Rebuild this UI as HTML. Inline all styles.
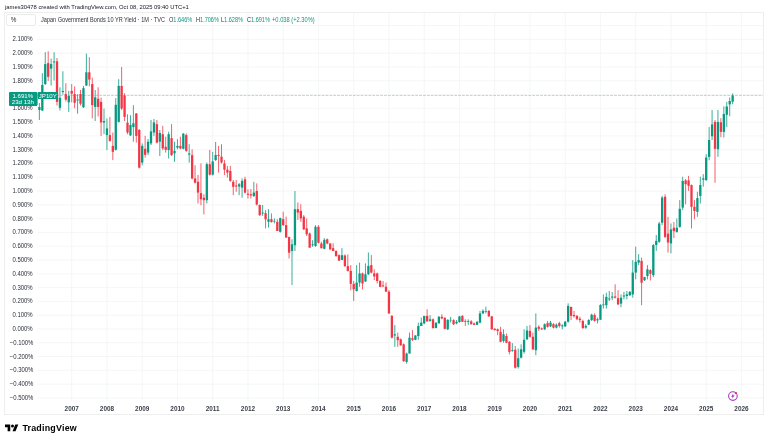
<!DOCTYPE html>
<html><head><meta charset="utf-8">
<style>
#wrap{position:absolute;left:0;top:0;width:768px;height:442px;will-change:transform}
html,body{margin:0;padding:0;background:#fff;width:768px;height:442px;overflow:hidden;position:relative;font-family:"Liberation Sans",sans-serif;color:#131722}
.t{position:absolute;white-space:nowrap}
#title{left:5px;top:2.8px;font-size:6.1px;line-height:8px;color:#131722;transform:scaleX(0.957);transform-origin:0 0}
#frame{position:absolute;left:4px;top:12px;width:758px;height:401px;border:1px solid #eeeeee}
#pct{position:absolute;left:5.9px;top:13.6px;width:28.6px;height:10.8px;border:0.7px solid #eaebeb;border-radius:2px;background:#fff}
#pcttx{left:10.8px;top:16.1px;font-size:6.3px;line-height:8px;color:#2a2e39}
.lg{top:16.0px;font-size:6.6px;line-height:8px;transform:scaleX(0.845);transform-origin:0 0;color:#2e323c}
.g{color:#089981}
.pl{position:absolute;right:734.9px;font-size:6.4px;line-height:8px;color:#2a2e39;white-space:nowrap;text-align:right;transform:scaleX(0.935);transform-origin:100% 0}
.yl{position:absolute;top:404.5px;width:30px;text-align:center;font-size:6.4px;font-weight:bold;line-height:8px;color:#3d414b}
#plbox{position:absolute;left:9px;top:92px;width:27.6px;height:13.8px;box-sizing:border-box;padding-top:0.6px;background:#089981;border-radius:1px;color:#fff;text-align:center;font-size:6.1px;line-height:6.4px}
#sym{position:absolute;left:37.9px;top:92.3px;width:19.8px;height:6.9px;background:#089981;color:#fff;text-align:center;font-size:6.1px;line-height:7px}
#logo{position:absolute;left:5px;top:424px}
#logotx{left:22.4px;top:422.9px;font-size:8.9px;font-weight:bold;line-height:11px;color:#000;letter-spacing:0.22px}
svg{position:absolute;left:0;top:0}
</style></head><body><div id="wrap">
<div class="t" id="title">james30478 created with TradingView.com, Oct 08, 2025 09:40 UTC+1</div>
<div id="frame"></div>
<svg width="768" height="442" viewBox="0 0 768 442">
<line x1="37" y1="397.94" x2="763" y2="397.94" stroke="#f2f3f3" stroke-width="0.75"/>
<line x1="37" y1="384.15" x2="763" y2="384.15" stroke="#f2f3f3" stroke-width="0.75"/>
<line x1="37" y1="370.36" x2="763" y2="370.36" stroke="#f2f3f3" stroke-width="0.75"/>
<line x1="37" y1="356.57" x2="763" y2="356.57" stroke="#f2f3f3" stroke-width="0.75"/>
<line x1="37" y1="342.78" x2="763" y2="342.78" stroke="#f2f3f3" stroke-width="0.75"/>
<line x1="37" y1="328.99" x2="763" y2="328.99" stroke="#f2f3f3" stroke-width="0.75"/>
<line x1="37" y1="315.20" x2="763" y2="315.20" stroke="#f2f3f3" stroke-width="0.75"/>
<line x1="37" y1="301.41" x2="763" y2="301.41" stroke="#f2f3f3" stroke-width="0.75"/>
<line x1="37" y1="287.62" x2="763" y2="287.62" stroke="#f2f3f3" stroke-width="0.75"/>
<line x1="37" y1="273.83" x2="763" y2="273.83" stroke="#f2f3f3" stroke-width="0.75"/>
<line x1="37" y1="260.04" x2="763" y2="260.04" stroke="#f2f3f3" stroke-width="0.75"/>
<line x1="37" y1="246.25" x2="763" y2="246.25" stroke="#f2f3f3" stroke-width="0.75"/>
<line x1="37" y1="232.46" x2="763" y2="232.46" stroke="#f2f3f3" stroke-width="0.75"/>
<line x1="37" y1="218.67" x2="763" y2="218.67" stroke="#f2f3f3" stroke-width="0.75"/>
<line x1="37" y1="204.88" x2="763" y2="204.88" stroke="#f2f3f3" stroke-width="0.75"/>
<line x1="37" y1="191.09" x2="763" y2="191.09" stroke="#f2f3f3" stroke-width="0.75"/>
<line x1="37" y1="177.30" x2="763" y2="177.30" stroke="#f2f3f3" stroke-width="0.75"/>
<line x1="37" y1="163.51" x2="763" y2="163.51" stroke="#f2f3f3" stroke-width="0.75"/>
<line x1="37" y1="149.72" x2="763" y2="149.72" stroke="#f2f3f3" stroke-width="0.75"/>
<line x1="37" y1="135.93" x2="763" y2="135.93" stroke="#f2f3f3" stroke-width="0.75"/>
<line x1="37" y1="122.14" x2="763" y2="122.14" stroke="#f2f3f3" stroke-width="0.75"/>
<line x1="37" y1="108.35" x2="763" y2="108.35" stroke="#f2f3f3" stroke-width="0.75"/>
<line x1="37" y1="94.56" x2="763" y2="94.56" stroke="#f2f3f3" stroke-width="0.75"/>
<line x1="37" y1="80.77" x2="763" y2="80.77" stroke="#f2f3f3" stroke-width="0.75"/>
<line x1="37" y1="66.98" x2="763" y2="66.98" stroke="#f2f3f3" stroke-width="0.75"/>
<line x1="37" y1="53.19" x2="763" y2="53.19" stroke="#f2f3f3" stroke-width="0.75"/>
<line x1="37" y1="39.40" x2="763" y2="39.40" stroke="#f2f3f3" stroke-width="0.75"/>
<line x1="37" y1="25.61" x2="763" y2="25.61" stroke="#f2f3f3" stroke-width="0.75"/>
<line x1="71.70" y1="13" x2="71.70" y2="401" stroke="#f2f3f3" stroke-width="0.75"/>
<line x1="106.95" y1="13" x2="106.95" y2="401" stroke="#f2f3f3" stroke-width="0.75"/>
<line x1="142.20" y1="13" x2="142.20" y2="401" stroke="#f2f3f3" stroke-width="0.75"/>
<line x1="177.45" y1="13" x2="177.45" y2="401" stroke="#f2f3f3" stroke-width="0.75"/>
<line x1="212.70" y1="13" x2="212.70" y2="401" stroke="#f2f3f3" stroke-width="0.75"/>
<line x1="247.95" y1="13" x2="247.95" y2="401" stroke="#f2f3f3" stroke-width="0.75"/>
<line x1="283.20" y1="13" x2="283.20" y2="401" stroke="#f2f3f3" stroke-width="0.75"/>
<line x1="318.45" y1="13" x2="318.45" y2="401" stroke="#f2f3f3" stroke-width="0.75"/>
<line x1="353.70" y1="13" x2="353.70" y2="401" stroke="#f2f3f3" stroke-width="0.75"/>
<line x1="388.95" y1="13" x2="388.95" y2="401" stroke="#f2f3f3" stroke-width="0.75"/>
<line x1="424.20" y1="13" x2="424.20" y2="401" stroke="#f2f3f3" stroke-width="0.75"/>
<line x1="459.45" y1="13" x2="459.45" y2="401" stroke="#f2f3f3" stroke-width="0.75"/>
<line x1="494.70" y1="13" x2="494.70" y2="401" stroke="#f2f3f3" stroke-width="0.75"/>
<line x1="529.95" y1="13" x2="529.95" y2="401" stroke="#f2f3f3" stroke-width="0.75"/>
<line x1="565.20" y1="13" x2="565.20" y2="401" stroke="#f2f3f3" stroke-width="0.75"/>
<line x1="600.45" y1="13" x2="600.45" y2="401" stroke="#f2f3f3" stroke-width="0.75"/>
<line x1="635.70" y1="13" x2="635.70" y2="401" stroke="#f2f3f3" stroke-width="0.75"/>
<line x1="670.95" y1="13" x2="670.95" y2="401" stroke="#f2f3f3" stroke-width="0.75"/>
<line x1="706.20" y1="13" x2="706.20" y2="401" stroke="#f2f3f3" stroke-width="0.75"/>
<line x1="741.45" y1="13" x2="741.45" y2="401" stroke="#f2f3f3" stroke-width="0.75"/>
<line x1="37" y1="95.50" x2="763" y2="95.50" stroke="#089981" stroke-opacity="0.45" stroke-width="0.7" stroke-dasharray="2.7 1.2"/>
<line x1="36.45" y1="92.50" x2="36.45" y2="106.00" stroke="#089981" stroke-width="0.8"/>
<rect x="35.30" y="92.50" width="2.3" height="12.50" fill="#089981"/>
<line x1="39.39" y1="103.00" x2="39.39" y2="120.00" stroke="#089981" stroke-width="0.8"/>
<rect x="38.24" y="107.00" width="2.3" height="3.00" fill="#089981"/>
<line x1="42.33" y1="73.20" x2="42.33" y2="111.00" stroke="#089981" stroke-width="0.8"/>
<rect x="41.18" y="85.00" width="2.3" height="25.50" fill="#089981"/>
<line x1="45.26" y1="52.20" x2="45.26" y2="85.00" stroke="#089981" stroke-width="0.8"/>
<rect x="44.11" y="64.10" width="2.3" height="19.90" fill="#089981"/>
<line x1="48.20" y1="51.30" x2="48.20" y2="80.90" stroke="#f23645" stroke-width="0.8"/>
<rect x="47.05" y="63.10" width="2.3" height="13.70" fill="#f23645"/>
<line x1="51.14" y1="58.60" x2="51.14" y2="85.50" stroke="#089981" stroke-width="0.8"/>
<rect x="49.99" y="64.10" width="2.3" height="4.50" fill="#089981"/>
<line x1="54.08" y1="52.20" x2="54.08" y2="80.50" stroke="#089981" stroke-width="0.8"/>
<rect x="52.93" y="61.50" width="2.3" height="1.00" fill="#089981"/>
<line x1="57.01" y1="58.00" x2="57.01" y2="105.50" stroke="#f23645" stroke-width="0.8"/>
<rect x="55.86" y="61.30" width="2.3" height="40.60" fill="#f23645"/>
<line x1="59.95" y1="87.30" x2="59.95" y2="110.50" stroke="#089981" stroke-width="0.8"/>
<rect x="58.80" y="97.80" width="2.3" height="10.00" fill="#089981"/>
<line x1="62.89" y1="71.30" x2="62.89" y2="94.60" stroke="#089981" stroke-width="0.8"/>
<rect x="61.74" y="91.00" width="2.3" height="1.00" fill="#089981"/>
<line x1="65.83" y1="83.20" x2="65.83" y2="101.40" stroke="#f23645" stroke-width="0.8"/>
<rect x="64.67" y="94.10" width="2.3" height="5.50" fill="#f23645"/>
<line x1="68.76" y1="90.90" x2="68.76" y2="111.90" stroke="#089981" stroke-width="0.8"/>
<rect x="67.61" y="96.00" width="2.3" height="6.30" fill="#089981"/>
<line x1="71.70" y1="84.10" x2="71.70" y2="102.30" stroke="#f23645" stroke-width="0.8"/>
<rect x="70.55" y="90.90" width="2.3" height="2.80" fill="#f23645"/>
<line x1="74.64" y1="86.40" x2="74.64" y2="108.30" stroke="#f23645" stroke-width="0.8"/>
<rect x="73.49" y="94.10" width="2.3" height="8.70" fill="#f23645"/>
<line x1="77.58" y1="94.10" x2="77.58" y2="113.70" stroke="#089981" stroke-width="0.8"/>
<rect x="76.42" y="99.50" width="2.3" height="1.00" fill="#089981"/>
<line x1="80.51" y1="90.00" x2="80.51" y2="105.50" stroke="#f23645" stroke-width="0.8"/>
<rect x="79.36" y="94.10" width="2.3" height="9.60" fill="#f23645"/>
<line x1="83.45" y1="85.90" x2="83.45" y2="108.00" stroke="#089981" stroke-width="0.8"/>
<rect x="82.30" y="88.20" width="2.3" height="19.10" fill="#089981"/>
<line x1="86.39" y1="53.60" x2="86.39" y2="86.00" stroke="#089981" stroke-width="0.8"/>
<rect x="85.24" y="72.30" width="2.3" height="13.20" fill="#089981"/>
<line x1="89.33" y1="57.20" x2="89.33" y2="86.40" stroke="#f23645" stroke-width="0.8"/>
<rect x="88.17" y="72.30" width="2.3" height="7.30" fill="#f23645"/>
<line x1="92.26" y1="77.70" x2="92.26" y2="118.30" stroke="#f23645" stroke-width="0.8"/>
<rect x="91.11" y="84.10" width="2.3" height="21.00" fill="#f23645"/>
<line x1="95.20" y1="90.00" x2="95.20" y2="121.00" stroke="#089981" stroke-width="0.8"/>
<rect x="94.05" y="97.30" width="2.3" height="9.60" fill="#089981"/>
<line x1="98.14" y1="87.30" x2="98.14" y2="116.50" stroke="#f23645" stroke-width="0.8"/>
<rect x="96.99" y="98.70" width="2.3" height="8.20" fill="#f23645"/>
<line x1="101.08" y1="97.60" x2="101.08" y2="135.90" stroke="#f23645" stroke-width="0.8"/>
<rect x="99.92" y="101.90" width="2.3" height="20.60" fill="#f23645"/>
<line x1="104.01" y1="108.50" x2="104.01" y2="134.20" stroke="#089981" stroke-width="0.8"/>
<rect x="102.86" y="121.00" width="2.3" height="1.50" fill="#089981"/>
<line x1="106.95" y1="118.50" x2="106.95" y2="150.10" stroke="#089981" stroke-width="0.8"/>
<rect x="105.80" y="128.40" width="2.3" height="6.70" fill="#089981"/>
<line x1="109.89" y1="116.90" x2="109.89" y2="141.70" stroke="#f23645" stroke-width="0.8"/>
<rect x="108.74" y="135.10" width="2.3" height="5.80" fill="#f23645"/>
<line x1="112.83" y1="132.50" x2="112.83" y2="160.10" stroke="#f23645" stroke-width="0.8"/>
<rect x="111.67" y="145.90" width="2.3" height="5.90" fill="#f23645"/>
<line x1="115.76" y1="98.10" x2="115.76" y2="150.50" stroke="#089981" stroke-width="0.8"/>
<rect x="114.61" y="104.80" width="2.3" height="45.00" fill="#089981"/>
<line x1="118.70" y1="79.20" x2="118.70" y2="122.50" stroke="#089981" stroke-width="0.8"/>
<rect x="117.55" y="85.90" width="2.3" height="36.00" fill="#089981"/>
<line x1="121.64" y1="67.00" x2="121.64" y2="110.00" stroke="#f23645" stroke-width="0.8"/>
<rect x="120.49" y="85.90" width="2.3" height="22.60" fill="#f23645"/>
<line x1="124.58" y1="93.10" x2="124.58" y2="121.00" stroke="#f23645" stroke-width="0.8"/>
<rect x="123.42" y="95.50" width="2.3" height="21.40" fill="#f23645"/>
<line x1="127.51" y1="114.30" x2="127.51" y2="134.20" stroke="#f23645" stroke-width="0.8"/>
<rect x="126.36" y="122.70" width="2.3" height="9.80" fill="#f23645"/>
<line x1="130.45" y1="115.20" x2="130.45" y2="135.90" stroke="#089981" stroke-width="0.8"/>
<rect x="129.30" y="125.00" width="2.3" height="10.40" fill="#089981"/>
<line x1="133.39" y1="105.20" x2="133.39" y2="141.70" stroke="#089981" stroke-width="0.8"/>
<rect x="132.24" y="123.30" width="2.3" height="3.70" fill="#089981"/>
<line x1="136.32" y1="113.00" x2="136.32" y2="142.60" stroke="#f23645" stroke-width="0.8"/>
<rect x="135.17" y="113.50" width="2.3" height="22.40" fill="#f23645"/>
<line x1="139.26" y1="129.00" x2="139.26" y2="168.50" stroke="#f23645" stroke-width="0.8"/>
<rect x="138.11" y="130.00" width="2.3" height="37.70" fill="#f23645"/>
<line x1="142.20" y1="143.40" x2="142.20" y2="165.20" stroke="#089981" stroke-width="0.8"/>
<rect x="141.05" y="145.90" width="2.3" height="16.70" fill="#089981"/>
<line x1="145.14" y1="135.90" x2="145.14" y2="157.60" stroke="#f23645" stroke-width="0.8"/>
<rect x="143.99" y="148.80" width="2.3" height="6.00" fill="#f23645"/>
<line x1="148.07" y1="139.00" x2="148.07" y2="155.10" stroke="#089981" stroke-width="0.8"/>
<rect x="146.92" y="141.70" width="2.3" height="10.90" fill="#089981"/>
<line x1="151.01" y1="120.00" x2="151.01" y2="145.10" stroke="#089981" stroke-width="0.8"/>
<rect x="149.86" y="131.40" width="2.3" height="12.00" fill="#089981"/>
<line x1="153.95" y1="119.00" x2="153.95" y2="135.90" stroke="#089981" stroke-width="0.8"/>
<rect x="152.80" y="122.50" width="2.3" height="10.00" fill="#089981"/>
<line x1="156.89" y1="120.00" x2="156.89" y2="143.40" stroke="#f23645" stroke-width="0.8"/>
<rect x="155.74" y="124.20" width="2.3" height="18.40" fill="#f23645"/>
<line x1="159.82" y1="130.00" x2="159.82" y2="156.00" stroke="#089981" stroke-width="0.8"/>
<rect x="158.67" y="133.00" width="2.3" height="8.70" fill="#089981"/>
<line x1="162.76" y1="125.90" x2="162.76" y2="150.10" stroke="#f23645" stroke-width="0.8"/>
<rect x="161.61" y="134.20" width="2.3" height="14.20" fill="#f23645"/>
<line x1="165.70" y1="136.70" x2="165.70" y2="152.60" stroke="#f23645" stroke-width="0.8"/>
<rect x="164.55" y="146.80" width="2.3" height="3.00" fill="#f23645"/>
<line x1="168.64" y1="131.70" x2="168.64" y2="158.50" stroke="#089981" stroke-width="0.8"/>
<rect x="167.49" y="134.20" width="2.3" height="15.90" fill="#089981"/>
<line x1="171.57" y1="124.20" x2="171.57" y2="156.00" stroke="#f23645" stroke-width="0.8"/>
<rect x="170.42" y="138.10" width="2.3" height="17.00" fill="#f23645"/>
<line x1="174.51" y1="141.70" x2="174.51" y2="161.80" stroke="#089981" stroke-width="0.8"/>
<rect x="173.36" y="150.90" width="2.3" height="2.50" fill="#089981"/>
<line x1="177.45" y1="139.20" x2="177.45" y2="149.30" stroke="#089981" stroke-width="0.8"/>
<rect x="176.30" y="145.90" width="2.3" height="1.70" fill="#089981"/>
<line x1="180.39" y1="136.70" x2="180.39" y2="149.30" stroke="#f23645" stroke-width="0.8"/>
<rect x="179.24" y="145.90" width="2.3" height="2.50" fill="#f23645"/>
<line x1="183.32" y1="133.00" x2="183.32" y2="149.30" stroke="#089981" stroke-width="0.8"/>
<rect x="182.17" y="133.70" width="2.3" height="15.10" fill="#089981"/>
<line x1="186.26" y1="133.40" x2="186.26" y2="151.80" stroke="#f23645" stroke-width="0.8"/>
<rect x="185.11" y="135.10" width="2.3" height="15.80" fill="#f23645"/>
<line x1="189.20" y1="144.20" x2="189.20" y2="162.60" stroke="#089981" stroke-width="0.8"/>
<rect x="188.05" y="153.40" width="2.3" height="1.20" fill="#089981"/>
<line x1="192.14" y1="149.30" x2="192.14" y2="179.40" stroke="#f23645" stroke-width="0.8"/>
<rect x="190.99" y="155.10" width="2.3" height="23.40" fill="#f23645"/>
<line x1="195.07" y1="165.20" x2="195.07" y2="183.50" stroke="#f23645" stroke-width="0.8"/>
<rect x="193.92" y="178.50" width="2.3" height="4.20" fill="#f23645"/>
<line x1="198.01" y1="175.00" x2="198.01" y2="203.50" stroke="#f23645" stroke-width="0.8"/>
<rect x="196.86" y="181.80" width="2.3" height="10.80" fill="#f23645"/>
<line x1="200.95" y1="163.40" x2="200.95" y2="205.20" stroke="#f23645" stroke-width="0.8"/>
<rect x="199.80" y="193.10" width="2.3" height="6.20" fill="#f23645"/>
<line x1="203.89" y1="194.30" x2="203.89" y2="214.40" stroke="#f23645" stroke-width="0.8"/>
<rect x="202.74" y="197.70" width="2.3" height="2.50" fill="#f23645"/>
<line x1="206.82" y1="162.50" x2="206.82" y2="203.50" stroke="#089981" stroke-width="0.8"/>
<rect x="205.67" y="164.20" width="2.3" height="36.00" fill="#089981"/>
<line x1="209.76" y1="150.00" x2="209.76" y2="175.50" stroke="#f23645" stroke-width="0.8"/>
<rect x="208.61" y="164.20" width="2.3" height="10.50" fill="#f23645"/>
<line x1="212.70" y1="152.00" x2="212.70" y2="175.50" stroke="#089981" stroke-width="0.8"/>
<rect x="211.55" y="161.40" width="2.3" height="13.30" fill="#089981"/>
<line x1="215.64" y1="142.00" x2="215.64" y2="161.00" stroke="#089981" stroke-width="0.8"/>
<rect x="214.49" y="155.00" width="2.3" height="5.00" fill="#089981"/>
<line x1="218.57" y1="145.90" x2="218.57" y2="172.60" stroke="#f23645" stroke-width="0.8"/>
<rect x="217.42" y="155.00" width="2.3" height="0.90" fill="#f23645"/>
<line x1="221.51" y1="144.20" x2="221.51" y2="163.50" stroke="#f23645" stroke-width="0.8"/>
<rect x="220.36" y="156.70" width="2.3" height="5.80" fill="#f23645"/>
<line x1="224.45" y1="160.10" x2="224.45" y2="175.00" stroke="#f23645" stroke-width="0.8"/>
<rect x="223.30" y="163.40" width="2.3" height="6.30" fill="#f23645"/>
<line x1="227.39" y1="165.90" x2="227.39" y2="177.60" stroke="#f23645" stroke-width="0.8"/>
<rect x="226.24" y="169.70" width="2.3" height="2.90" fill="#f23645"/>
<line x1="230.32" y1="165.90" x2="230.32" y2="181.80" stroke="#f23645" stroke-width="0.8"/>
<rect x="229.17" y="170.90" width="2.3" height="10.00" fill="#f23645"/>
<line x1="233.26" y1="180.00" x2="233.26" y2="195.20" stroke="#f23645" stroke-width="0.8"/>
<rect x="232.11" y="181.80" width="2.3" height="5.00" fill="#f23645"/>
<line x1="236.20" y1="180.00" x2="236.20" y2="191.80" stroke="#f23645" stroke-width="0.8"/>
<rect x="235.05" y="185.50" width="2.3" height="1.00" fill="#f23645"/>
<line x1="239.14" y1="183.00" x2="239.14" y2="195.20" stroke="#089981" stroke-width="0.8"/>
<rect x="237.99" y="184.30" width="2.3" height="2.20" fill="#089981"/>
<line x1="242.07" y1="178.40" x2="242.07" y2="197.70" stroke="#089981" stroke-width="0.8"/>
<rect x="240.92" y="180.90" width="2.3" height="6.70" fill="#089981"/>
<line x1="245.01" y1="176.80" x2="245.01" y2="193.50" stroke="#f23645" stroke-width="0.8"/>
<rect x="243.86" y="179.30" width="2.3" height="13.30" fill="#f23645"/>
<line x1="247.95" y1="189.30" x2="247.95" y2="198.50" stroke="#f23645" stroke-width="0.8"/>
<rect x="246.80" y="193.80" width="2.3" height="1.00" fill="#f23645"/>
<line x1="250.89" y1="189.00" x2="250.89" y2="198.50" stroke="#f23645" stroke-width="0.8"/>
<rect x="249.74" y="194.30" width="2.3" height="1.20" fill="#f23645"/>
<line x1="253.82" y1="181.80" x2="253.82" y2="197.00" stroke="#089981" stroke-width="0.8"/>
<rect x="252.67" y="192.60" width="2.3" height="3.40" fill="#089981"/>
<line x1="256.76" y1="183.40" x2="256.76" y2="205.50" stroke="#f23645" stroke-width="0.8"/>
<rect x="255.61" y="191.00" width="2.3" height="13.50" fill="#f23645"/>
<line x1="259.70" y1="204.50" x2="259.70" y2="216.00" stroke="#f23645" stroke-width="0.8"/>
<rect x="258.55" y="205.00" width="2.3" height="10.10" fill="#f23645"/>
<line x1="262.64" y1="205.00" x2="262.64" y2="215.90" stroke="#089981" stroke-width="0.8"/>
<rect x="261.49" y="212.60" width="2.3" height="0.80" fill="#089981"/>
<line x1="265.57" y1="210.00" x2="265.57" y2="228.40" stroke="#f23645" stroke-width="0.8"/>
<rect x="264.43" y="213.10" width="2.3" height="6.10" fill="#f23645"/>
<line x1="268.51" y1="209.20" x2="268.51" y2="227.60" stroke="#089981" stroke-width="0.8"/>
<rect x="267.36" y="219.20" width="2.3" height="2.60" fill="#089981"/>
<line x1="271.45" y1="213.40" x2="271.45" y2="222.60" stroke="#f23645" stroke-width="0.8"/>
<rect x="270.30" y="219.20" width="2.3" height="2.90" fill="#f23645"/>
<line x1="274.39" y1="218.40" x2="274.39" y2="223.40" stroke="#089981" stroke-width="0.8"/>
<rect x="273.24" y="220.90" width="2.3" height="0.60" fill="#089981"/>
<line x1="277.32" y1="219.20" x2="277.32" y2="231.00" stroke="#f23645" stroke-width="0.8"/>
<rect x="276.18" y="221.80" width="2.3" height="9.20" fill="#f23645"/>
<line x1="280.26" y1="217.60" x2="280.26" y2="232.60" stroke="#089981" stroke-width="0.8"/>
<rect x="279.11" y="218.10" width="2.3" height="13.70" fill="#089981"/>
<line x1="283.20" y1="211.70" x2="283.20" y2="226.00" stroke="#f23645" stroke-width="0.8"/>
<rect x="282.05" y="219.20" width="2.3" height="5.90" fill="#f23645"/>
<line x1="286.14" y1="216.70" x2="286.14" y2="237.60" stroke="#f23645" stroke-width="0.8"/>
<rect x="284.99" y="225.10" width="2.3" height="12.50" fill="#f23645"/>
<line x1="289.07" y1="236.50" x2="289.07" y2="258.50" stroke="#f23645" stroke-width="0.8"/>
<rect x="287.93" y="237.10" width="2.3" height="15.60" fill="#f23645"/>
<line x1="292.01" y1="239.30" x2="292.01" y2="285.00" stroke="#089981" stroke-width="0.8"/>
<rect x="290.86" y="244.30" width="2.3" height="6.70" fill="#089981"/>
<line x1="294.95" y1="191.00" x2="294.95" y2="251.00" stroke="#089981" stroke-width="0.8"/>
<rect x="293.80" y="209.20" width="2.3" height="36.00" fill="#089981"/>
<line x1="297.89" y1="202.50" x2="297.89" y2="220.10" stroke="#f23645" stroke-width="0.8"/>
<rect x="296.74" y="209.20" width="2.3" height="3.40" fill="#f23645"/>
<line x1="300.82" y1="204.20" x2="300.82" y2="221.80" stroke="#f23645" stroke-width="0.8"/>
<rect x="299.68" y="210.90" width="2.3" height="7.50" fill="#f23645"/>
<line x1="303.76" y1="215.10" x2="303.76" y2="230.10" stroke="#f23645" stroke-width="0.8"/>
<rect x="302.61" y="216.70" width="2.3" height="12.60" fill="#f23645"/>
<line x1="306.70" y1="218.40" x2="306.70" y2="236.00" stroke="#f23645" stroke-width="0.8"/>
<rect x="305.55" y="228.40" width="2.3" height="5.90" fill="#f23645"/>
<line x1="309.64" y1="232.60" x2="309.64" y2="247.70" stroke="#f23645" stroke-width="0.8"/>
<rect x="308.49" y="233.50" width="2.3" height="14.20" fill="#f23645"/>
<line x1="312.57" y1="240.20" x2="312.57" y2="246.80" stroke="#089981" stroke-width="0.8"/>
<rect x="311.43" y="244.30" width="2.3" height="0.90" fill="#089981"/>
<line x1="315.51" y1="225.10" x2="315.51" y2="246.80" stroke="#089981" stroke-width="0.8"/>
<rect x="314.36" y="226.80" width="2.3" height="19.20" fill="#089981"/>
<line x1="318.45" y1="225.10" x2="318.45" y2="243.50" stroke="#f23645" stroke-width="0.8"/>
<rect x="317.30" y="226.80" width="2.3" height="15.90" fill="#f23645"/>
<line x1="321.39" y1="241.80" x2="321.39" y2="248.50" stroke="#f23645" stroke-width="0.8"/>
<rect x="320.24" y="243.50" width="2.3" height="4.70" fill="#f23645"/>
<line x1="324.32" y1="238.10" x2="324.32" y2="249.30" stroke="#089981" stroke-width="0.8"/>
<rect x="323.18" y="239.80" width="2.3" height="9.00" fill="#089981"/>
<line x1="327.26" y1="238.50" x2="327.26" y2="244.30" stroke="#f23645" stroke-width="0.8"/>
<rect x="326.11" y="239.30" width="2.3" height="4.20" fill="#f23645"/>
<line x1="330.20" y1="243.20" x2="330.20" y2="250.20" stroke="#f23645" stroke-width="0.8"/>
<rect x="329.05" y="243.50" width="2.3" height="5.80" fill="#f23645"/>
<line x1="333.14" y1="243.20" x2="333.14" y2="251.00" stroke="#f23645" stroke-width="0.8"/>
<rect x="331.99" y="248.20" width="2.3" height="2.80" fill="#f23645"/>
<line x1="336.07" y1="250.20" x2="336.07" y2="256.90" stroke="#f23645" stroke-width="0.8"/>
<rect x="334.93" y="251.00" width="2.3" height="5.00" fill="#f23645"/>
<line x1="339.01" y1="254.40" x2="339.01" y2="261.00" stroke="#f23645" stroke-width="0.8"/>
<rect x="337.86" y="255.20" width="2.3" height="5.40" fill="#f23645"/>
<line x1="341.95" y1="248.20" x2="341.95" y2="260.20" stroke="#089981" stroke-width="0.8"/>
<rect x="340.80" y="255.20" width="2.3" height="4.70" fill="#089981"/>
<line x1="344.89" y1="254.40" x2="344.89" y2="266.90" stroke="#f23645" stroke-width="0.8"/>
<rect x="343.74" y="255.50" width="2.3" height="10.60" fill="#f23645"/>
<line x1="347.82" y1="254.40" x2="347.82" y2="271.50" stroke="#f23645" stroke-width="0.8"/>
<rect x="346.68" y="266.10" width="2.3" height="4.80" fill="#f23645"/>
<line x1="350.76" y1="265.10" x2="350.76" y2="290.20" stroke="#f23645" stroke-width="0.8"/>
<rect x="349.61" y="270.90" width="2.3" height="12.90" fill="#f23645"/>
<line x1="353.70" y1="281.00" x2="353.70" y2="301.00" stroke="#f23645" stroke-width="0.8"/>
<rect x="352.55" y="283.80" width="2.3" height="5.50" fill="#f23645"/>
<line x1="356.64" y1="265.10" x2="356.64" y2="291.50" stroke="#089981" stroke-width="0.8"/>
<rect x="355.49" y="282.60" width="2.3" height="8.40" fill="#089981"/>
<line x1="359.57" y1="262.60" x2="359.57" y2="286.80" stroke="#089981" stroke-width="0.8"/>
<rect x="358.43" y="273.40" width="2.3" height="9.20" fill="#089981"/>
<line x1="362.51" y1="272.60" x2="362.51" y2="289.30" stroke="#f23645" stroke-width="0.8"/>
<rect x="361.36" y="273.40" width="2.3" height="10.10" fill="#f23645"/>
<line x1="365.45" y1="263.40" x2="365.45" y2="282.00" stroke="#089981" stroke-width="0.8"/>
<rect x="364.30" y="274.30" width="2.3" height="7.20" fill="#089981"/>
<line x1="368.39" y1="252.50" x2="368.39" y2="275.00" stroke="#089981" stroke-width="0.8"/>
<rect x="367.24" y="265.90" width="2.3" height="8.40" fill="#089981"/>
<line x1="371.32" y1="255.00" x2="371.32" y2="273.40" stroke="#f23645" stroke-width="0.8"/>
<rect x="370.18" y="265.10" width="2.3" height="7.50" fill="#f23645"/>
<line x1="374.26" y1="269.30" x2="374.26" y2="280.10" stroke="#f23645" stroke-width="0.8"/>
<rect x="373.11" y="273.40" width="2.3" height="3.10" fill="#f23645"/>
<line x1="377.20" y1="272.60" x2="377.20" y2="283.50" stroke="#f23645" stroke-width="0.8"/>
<rect x="376.05" y="273.40" width="2.3" height="7.60" fill="#f23645"/>
<line x1="380.14" y1="280.10" x2="380.14" y2="287.20" stroke="#f23645" stroke-width="0.8"/>
<rect x="378.99" y="281.00" width="2.3" height="5.80" fill="#f23645"/>
<line x1="383.07" y1="281.00" x2="383.07" y2="286.80" stroke="#f23645" stroke-width="0.8"/>
<rect x="381.93" y="285.50" width="2.3" height="1.00" fill="#f23645"/>
<line x1="386.01" y1="282.60" x2="386.01" y2="291.80" stroke="#f23645" stroke-width="0.8"/>
<rect x="384.86" y="286.80" width="2.3" height="4.90" fill="#f23645"/>
<line x1="388.95" y1="290.00" x2="388.95" y2="314.00" stroke="#f23645" stroke-width="0.8"/>
<rect x="387.80" y="291.70" width="2.3" height="21.70" fill="#f23645"/>
<line x1="391.89" y1="315.10" x2="391.89" y2="338.50" stroke="#f23645" stroke-width="0.8"/>
<rect x="390.74" y="315.90" width="2.3" height="21.80" fill="#f23645"/>
<line x1="394.82" y1="325.10" x2="394.82" y2="346.90" stroke="#089981" stroke-width="0.8"/>
<rect x="393.68" y="334.30" width="2.3" height="1.20" fill="#089981"/>
<line x1="397.76" y1="332.60" x2="397.76" y2="346.90" stroke="#f23645" stroke-width="0.8"/>
<rect x="396.61" y="336.80" width="2.3" height="3.40" fill="#f23645"/>
<line x1="400.70" y1="338.50" x2="400.70" y2="346.00" stroke="#f23645" stroke-width="0.8"/>
<rect x="399.55" y="339.30" width="2.3" height="5.90" fill="#f23645"/>
<line x1="403.64" y1="343.50" x2="403.64" y2="361.90" stroke="#f23645" stroke-width="0.8"/>
<rect x="402.49" y="344.30" width="2.3" height="16.80" fill="#f23645"/>
<line x1="406.57" y1="352.70" x2="406.57" y2="363.60" stroke="#089981" stroke-width="0.8"/>
<rect x="405.43" y="353.50" width="2.3" height="8.40" fill="#089981"/>
<line x1="409.51" y1="332.60" x2="409.51" y2="353.50" stroke="#089981" stroke-width="0.8"/>
<rect x="408.36" y="337.70" width="2.3" height="15.80" fill="#089981"/>
<line x1="412.45" y1="330.10" x2="412.45" y2="341.00" stroke="#f23645" stroke-width="0.8"/>
<rect x="411.30" y="338.20" width="2.3" height="1.60" fill="#f23645"/>
<line x1="415.39" y1="335.20" x2="415.39" y2="340.20" stroke="#089981" stroke-width="0.8"/>
<rect x="414.24" y="335.50" width="2.3" height="4.30" fill="#089981"/>
<line x1="418.32" y1="322.60" x2="418.32" y2="339.80" stroke="#089981" stroke-width="0.8"/>
<rect x="417.18" y="326.00" width="2.3" height="10.00" fill="#089981"/>
<line x1="421.26" y1="317.60" x2="421.26" y2="326.00" stroke="#089981" stroke-width="0.8"/>
<rect x="420.11" y="322.60" width="2.3" height="3.40" fill="#089981"/>
<line x1="424.20" y1="315.90" x2="424.20" y2="324.30" stroke="#089981" stroke-width="0.8"/>
<rect x="423.05" y="315.90" width="2.3" height="7.50" fill="#089981"/>
<line x1="427.14" y1="309.20" x2="427.14" y2="321.80" stroke="#f23645" stroke-width="0.8"/>
<rect x="425.99" y="315.90" width="2.3" height="5.50" fill="#f23645"/>
<line x1="430.07" y1="315.10" x2="430.07" y2="321.80" stroke="#089981" stroke-width="0.8"/>
<rect x="428.93" y="319.30" width="2.3" height="1.60" fill="#089981"/>
<line x1="433.01" y1="318.40" x2="433.01" y2="328.50" stroke="#f23645" stroke-width="0.8"/>
<rect x="431.86" y="319.30" width="2.3" height="8.80" fill="#f23645"/>
<line x1="435.95" y1="322.60" x2="435.95" y2="328.10" stroke="#089981" stroke-width="0.8"/>
<rect x="434.80" y="322.60" width="2.3" height="5.50" fill="#089981"/>
<line x1="438.89" y1="315.90" x2="438.89" y2="323.40" stroke="#089981" stroke-width="0.8"/>
<rect x="437.74" y="316.80" width="2.3" height="6.60" fill="#089981"/>
<line x1="441.82" y1="314.20" x2="441.82" y2="319.30" stroke="#f23645" stroke-width="0.8"/>
<rect x="440.68" y="316.80" width="2.3" height="1.60" fill="#f23645"/>
<line x1="444.76" y1="317.60" x2="444.76" y2="329.30" stroke="#f23645" stroke-width="0.8"/>
<rect x="443.61" y="317.60" width="2.3" height="11.20" fill="#f23645"/>
<line x1="447.70" y1="319.30" x2="447.70" y2="330.10" stroke="#089981" stroke-width="0.8"/>
<rect x="446.55" y="319.80" width="2.3" height="9.50" fill="#089981"/>
<line x1="450.64" y1="316.80" x2="450.64" y2="322.60" stroke="#089981" stroke-width="0.8"/>
<rect x="449.49" y="319.80" width="2.3" height="0.60" fill="#089981"/>
<line x1="453.57" y1="319.30" x2="453.57" y2="325.10" stroke="#f23645" stroke-width="0.8"/>
<rect x="452.43" y="320.10" width="2.3" height="4.20" fill="#f23645"/>
<line x1="456.51" y1="320.10" x2="456.51" y2="324.30" stroke="#089981" stroke-width="0.8"/>
<rect x="455.36" y="321.80" width="2.3" height="1.60" fill="#089981"/>
<line x1="459.45" y1="315.90" x2="459.45" y2="322.60" stroke="#089981" stroke-width="0.8"/>
<rect x="458.30" y="316.40" width="2.3" height="5.70" fill="#089981"/>
<line x1="462.39" y1="315.10" x2="462.39" y2="322.10" stroke="#f23645" stroke-width="0.8"/>
<rect x="461.24" y="315.90" width="2.3" height="5.90" fill="#f23645"/>
<line x1="465.32" y1="319.30" x2="465.32" y2="326.00" stroke="#f23645" stroke-width="0.8"/>
<rect x="464.18" y="320.90" width="2.3" height="0.90" fill="#f23645"/>
<line x1="468.26" y1="319.30" x2="468.26" y2="325.10" stroke="#089981" stroke-width="0.8"/>
<rect x="467.11" y="320.90" width="2.3" height="0.90" fill="#089981"/>
<line x1="471.20" y1="320.10" x2="471.20" y2="324.30" stroke="#f23645" stroke-width="0.8"/>
<rect x="470.05" y="321.40" width="2.3" height="2.90" fill="#f23645"/>
<line x1="474.14" y1="322.60" x2="474.14" y2="325.10" stroke="#f23645" stroke-width="0.8"/>
<rect x="472.99" y="323.40" width="2.3" height="1.40" fill="#f23645"/>
<line x1="477.07" y1="320.90" x2="477.07" y2="325.10" stroke="#089981" stroke-width="0.8"/>
<rect x="475.93" y="321.80" width="2.3" height="3.00" fill="#089981"/>
<line x1="480.01" y1="310.90" x2="480.01" y2="323.40" stroke="#089981" stroke-width="0.8"/>
<rect x="478.86" y="313.40" width="2.3" height="9.20" fill="#089981"/>
<line x1="482.95" y1="309.20" x2="482.95" y2="314.20" stroke="#089981" stroke-width="0.8"/>
<rect x="481.80" y="310.90" width="2.3" height="2.50" fill="#089981"/>
<line x1="485.89" y1="306.70" x2="485.89" y2="313.40" stroke="#089981" stroke-width="0.8"/>
<rect x="484.74" y="310.90" width="2.3" height="0.80" fill="#089981"/>
<line x1="488.82" y1="310.10" x2="488.82" y2="316.80" stroke="#f23645" stroke-width="0.8"/>
<rect x="487.68" y="310.90" width="2.3" height="5.50" fill="#f23645"/>
<line x1="491.76" y1="315.90" x2="491.76" y2="329.80" stroke="#f23645" stroke-width="0.8"/>
<rect x="490.61" y="316.40" width="2.3" height="12.90" fill="#f23645"/>
<line x1="494.70" y1="328.10" x2="494.70" y2="330.50" stroke="#f23645" stroke-width="0.8"/>
<rect x="493.55" y="328.80" width="2.3" height="1.30" fill="#f23645"/>
<line x1="497.64" y1="328.50" x2="497.64" y2="335.20" stroke="#f23645" stroke-width="0.8"/>
<rect x="496.49" y="329.30" width="2.3" height="1.70" fill="#f23645"/>
<line x1="500.57" y1="326.80" x2="500.57" y2="342.20" stroke="#f23645" stroke-width="0.8"/>
<rect x="499.43" y="331.80" width="2.3" height="10.00" fill="#f23645"/>
<line x1="503.51" y1="329.30" x2="503.51" y2="342.70" stroke="#089981" stroke-width="0.8"/>
<rect x="502.36" y="334.30" width="2.3" height="6.70" fill="#089981"/>
<line x1="506.45" y1="333.50" x2="506.45" y2="343.20" stroke="#f23645" stroke-width="0.8"/>
<rect x="505.30" y="336.00" width="2.3" height="6.70" fill="#f23645"/>
<line x1="509.39" y1="341.00" x2="509.39" y2="354.40" stroke="#f23645" stroke-width="0.8"/>
<rect x="508.24" y="341.80" width="2.3" height="10.10" fill="#f23645"/>
<line x1="512.33" y1="343.10" x2="512.33" y2="351.80" stroke="#089981" stroke-width="0.8"/>
<rect x="511.18" y="350.20" width="2.3" height="0.80" fill="#089981"/>
<line x1="515.26" y1="346.00" x2="515.26" y2="368.60" stroke="#f23645" stroke-width="0.8"/>
<rect x="514.11" y="349.80" width="2.3" height="17.90" fill="#f23645"/>
<line x1="518.20" y1="348.50" x2="518.20" y2="368.60" stroke="#089981" stroke-width="0.8"/>
<rect x="517.05" y="358.20" width="2.3" height="8.70" fill="#089981"/>
<line x1="521.14" y1="344.30" x2="521.14" y2="358.50" stroke="#089981" stroke-width="0.8"/>
<rect x="519.99" y="349.30" width="2.3" height="8.40" fill="#089981"/>
<line x1="524.08" y1="329.30" x2="524.08" y2="353.50" stroke="#089981" stroke-width="0.8"/>
<rect x="522.93" y="339.80" width="2.3" height="12.00" fill="#089981"/>
<line x1="527.01" y1="325.90" x2="527.01" y2="340.10" stroke="#089981" stroke-width="0.8"/>
<rect x="525.86" y="330.40" width="2.3" height="8.90" fill="#089981"/>
<line x1="529.95" y1="325.10" x2="529.95" y2="337.60" stroke="#f23645" stroke-width="0.8"/>
<rect x="528.80" y="330.90" width="2.3" height="5.90" fill="#f23645"/>
<line x1="532.89" y1="332.60" x2="532.89" y2="350.20" stroke="#f23645" stroke-width="0.8"/>
<rect x="531.74" y="336.80" width="2.3" height="12.50" fill="#f23645"/>
<line x1="535.83" y1="313.40" x2="535.83" y2="355.20" stroke="#089981" stroke-width="0.8"/>
<rect x="534.68" y="327.60" width="2.3" height="22.60" fill="#089981"/>
<line x1="538.76" y1="325.10" x2="538.76" y2="330.90" stroke="#f23645" stroke-width="0.8"/>
<rect x="537.61" y="326.80" width="2.3" height="2.00" fill="#f23645"/>
<line x1="541.70" y1="327.60" x2="541.70" y2="330.10" stroke="#f23645" stroke-width="0.8"/>
<rect x="540.55" y="328.40" width="2.3" height="0.90" fill="#f23645"/>
<line x1="544.64" y1="323.40" x2="544.64" y2="330.10" stroke="#089981" stroke-width="0.8"/>
<rect x="543.49" y="324.20" width="2.3" height="5.10" fill="#089981"/>
<line x1="547.58" y1="320.90" x2="547.58" y2="327.60" stroke="#f23645" stroke-width="0.8"/>
<rect x="546.43" y="323.10" width="2.3" height="3.70" fill="#f23645"/>
<line x1="550.51" y1="320.90" x2="550.51" y2="327.10" stroke="#089981" stroke-width="0.8"/>
<rect x="549.36" y="322.60" width="2.3" height="3.80" fill="#089981"/>
<line x1="553.45" y1="323.10" x2="553.45" y2="328.40" stroke="#f23645" stroke-width="0.8"/>
<rect x="552.30" y="324.20" width="2.3" height="3.40" fill="#f23645"/>
<line x1="556.39" y1="323.40" x2="556.39" y2="328.40" stroke="#089981" stroke-width="0.8"/>
<rect x="555.24" y="324.70" width="2.3" height="2.90" fill="#089981"/>
<line x1="559.33" y1="321.70" x2="559.33" y2="327.60" stroke="#f23645" stroke-width="0.8"/>
<rect x="558.18" y="323.10" width="2.3" height="2.80" fill="#f23645"/>
<line x1="562.26" y1="324.20" x2="562.26" y2="329.30" stroke="#089981" stroke-width="0.8"/>
<rect x="561.11" y="325.40" width="2.3" height="1.00" fill="#089981"/>
<line x1="565.20" y1="320.90" x2="565.20" y2="326.80" stroke="#089981" stroke-width="0.8"/>
<rect x="564.05" y="321.70" width="2.3" height="4.70" fill="#089981"/>
<line x1="568.14" y1="303.30" x2="568.14" y2="322.60" stroke="#089981" stroke-width="0.8"/>
<rect x="566.99" y="305.90" width="2.3" height="15.80" fill="#089981"/>
<line x1="571.08" y1="306.40" x2="571.08" y2="320.10" stroke="#f23645" stroke-width="0.8"/>
<rect x="569.93" y="307.00" width="2.3" height="8.90" fill="#f23645"/>
<line x1="574.01" y1="310.90" x2="574.01" y2="317.60" stroke="#f23645" stroke-width="0.8"/>
<rect x="572.86" y="315.00" width="2.3" height="1.20" fill="#f23645"/>
<line x1="576.95" y1="315.00" x2="576.95" y2="320.10" stroke="#f23645" stroke-width="0.8"/>
<rect x="575.80" y="315.90" width="2.3" height="3.30" fill="#f23645"/>
<line x1="579.89" y1="316.70" x2="579.89" y2="322.60" stroke="#f23645" stroke-width="0.8"/>
<rect x="578.74" y="318.70" width="2.3" height="1.40" fill="#f23645"/>
<line x1="582.83" y1="319.70" x2="582.83" y2="328.80" stroke="#f23645" stroke-width="0.8"/>
<rect x="581.68" y="320.90" width="2.3" height="7.20" fill="#f23645"/>
<line x1="585.76" y1="324.20" x2="585.76" y2="328.80" stroke="#089981" stroke-width="0.8"/>
<rect x="584.61" y="325.90" width="2.3" height="1.70" fill="#089981"/>
<line x1="588.70" y1="319.20" x2="588.70" y2="325.10" stroke="#089981" stroke-width="0.8"/>
<rect x="587.55" y="320.10" width="2.3" height="4.60" fill="#089981"/>
<line x1="591.64" y1="313.70" x2="591.64" y2="320.90" stroke="#089981" stroke-width="0.8"/>
<rect x="590.49" y="314.70" width="2.3" height="5.40" fill="#089981"/>
<line x1="594.58" y1="313.40" x2="594.58" y2="321.70" stroke="#f23645" stroke-width="0.8"/>
<rect x="593.43" y="315.00" width="2.3" height="5.90" fill="#f23645"/>
<line x1="597.51" y1="317.60" x2="597.51" y2="323.40" stroke="#089981" stroke-width="0.8"/>
<rect x="596.36" y="319.20" width="2.3" height="1.20" fill="#089981"/>
<line x1="600.45" y1="304.20" x2="600.45" y2="320.10" stroke="#089981" stroke-width="0.8"/>
<rect x="599.30" y="305.00" width="2.3" height="14.70" fill="#089981"/>
<line x1="603.39" y1="294.40" x2="603.39" y2="308.50" stroke="#089981" stroke-width="0.8"/>
<rect x="602.24" y="304.40" width="2.3" height="0.80" fill="#089981"/>
<line x1="606.33" y1="292.70" x2="606.33" y2="308.60" stroke="#089981" stroke-width="0.8"/>
<rect x="605.18" y="296.90" width="2.3" height="8.30" fill="#089981"/>
<line x1="609.26" y1="291.00" x2="609.26" y2="301.00" stroke="#089981" stroke-width="0.8"/>
<rect x="608.11" y="298.50" width="2.3" height="0.90" fill="#089981"/>
<line x1="612.20" y1="292.00" x2="612.20" y2="300.20" stroke="#089981" stroke-width="0.8"/>
<rect x="611.05" y="296.50" width="2.3" height="1.20" fill="#089981"/>
<line x1="615.14" y1="284.30" x2="615.14" y2="298.50" stroke="#f23645" stroke-width="0.8"/>
<rect x="613.99" y="296.50" width="2.3" height="1.20" fill="#f23645"/>
<line x1="618.08" y1="290.20" x2="618.08" y2="305.20" stroke="#f23645" stroke-width="0.8"/>
<rect x="616.93" y="298.20" width="2.3" height="6.20" fill="#f23645"/>
<line x1="621.01" y1="294.40" x2="621.01" y2="307.20" stroke="#089981" stroke-width="0.8"/>
<rect x="619.86" y="297.70" width="2.3" height="5.90" fill="#089981"/>
<line x1="623.95" y1="291.90" x2="623.95" y2="299.40" stroke="#089981" stroke-width="0.8"/>
<rect x="622.80" y="295.50" width="2.3" height="1.00" fill="#089981"/>
<line x1="626.89" y1="291.00" x2="626.89" y2="299.40" stroke="#089981" stroke-width="0.8"/>
<rect x="625.74" y="294.40" width="2.3" height="1.60" fill="#089981"/>
<line x1="629.83" y1="291.00" x2="629.83" y2="296.00" stroke="#089981" stroke-width="0.8"/>
<rect x="628.68" y="291.90" width="2.3" height="3.30" fill="#089981"/>
<line x1="632.76" y1="260.10" x2="632.76" y2="297.70" stroke="#089981" stroke-width="0.8"/>
<rect x="631.61" y="272.60" width="2.3" height="21.80" fill="#089981"/>
<line x1="635.70" y1="246.70" x2="635.70" y2="279.30" stroke="#089981" stroke-width="0.8"/>
<rect x="634.55" y="261.80" width="2.3" height="10.80" fill="#089981"/>
<line x1="638.64" y1="254.20" x2="638.64" y2="265.10" stroke="#089981" stroke-width="0.8"/>
<rect x="637.49" y="260.10" width="2.3" height="2.50" fill="#089981"/>
<line x1="641.58" y1="257.60" x2="641.58" y2="305.20" stroke="#f23645" stroke-width="0.8"/>
<rect x="640.43" y="260.90" width="2.3" height="21.80" fill="#f23645"/>
<line x1="644.51" y1="276.80" x2="644.51" y2="281.00" stroke="#089981" stroke-width="0.8"/>
<rect x="643.36" y="277.10" width="2.3" height="3.10" fill="#089981"/>
<line x1="647.45" y1="265.10" x2="647.45" y2="279.30" stroke="#089981" stroke-width="0.8"/>
<rect x="646.30" y="269.30" width="2.3" height="6.70" fill="#089981"/>
<line x1="650.39" y1="269.30" x2="650.39" y2="280.50" stroke="#f23645" stroke-width="0.8"/>
<rect x="649.24" y="270.10" width="2.3" height="3.70" fill="#f23645"/>
<line x1="653.33" y1="244.20" x2="653.33" y2="277.20" stroke="#089981" stroke-width="0.8"/>
<rect x="652.18" y="245.00" width="2.3" height="30.10" fill="#089981"/>
<line x1="656.26" y1="235.00" x2="656.26" y2="250.90" stroke="#089981" stroke-width="0.8"/>
<rect x="655.11" y="240.90" width="2.3" height="4.10" fill="#089981"/>
<line x1="659.20" y1="221.90" x2="659.20" y2="243.00" stroke="#089981" stroke-width="0.8"/>
<rect x="658.05" y="223.50" width="2.3" height="18.20" fill="#089981"/>
<line x1="662.14" y1="195.90" x2="662.14" y2="225.20" stroke="#089981" stroke-width="0.8"/>
<rect x="660.99" y="197.60" width="2.3" height="25.10" fill="#089981"/>
<line x1="665.08" y1="194.30" x2="665.08" y2="238.00" stroke="#f23645" stroke-width="0.8"/>
<rect x="663.93" y="196.80" width="2.3" height="40.10" fill="#f23645"/>
<line x1="668.01" y1="216.80" x2="668.01" y2="252.60" stroke="#f23645" stroke-width="0.8"/>
<rect x="666.86" y="233.60" width="2.3" height="8.90" fill="#f23645"/>
<line x1="670.95" y1="223.50" x2="670.95" y2="253.40" stroke="#089981" stroke-width="0.8"/>
<rect x="669.80" y="229.40" width="2.3" height="14.00" fill="#089981"/>
<line x1="673.89" y1="222.00" x2="673.89" y2="238.00" stroke="#f23645" stroke-width="0.8"/>
<rect x="672.74" y="227.70" width="2.3" height="3.40" fill="#f23645"/>
<line x1="676.83" y1="218.50" x2="676.83" y2="232.70" stroke="#089981" stroke-width="0.8"/>
<rect x="675.68" y="227.70" width="2.3" height="4.20" fill="#089981"/>
<line x1="679.76" y1="200.10" x2="679.76" y2="227.70" stroke="#089981" stroke-width="0.8"/>
<rect x="678.61" y="208.80" width="2.3" height="18.10" fill="#089981"/>
<line x1="682.70" y1="176.70" x2="682.70" y2="210.20" stroke="#089981" stroke-width="0.8"/>
<rect x="681.55" y="180.90" width="2.3" height="26.70" fill="#089981"/>
<line x1="685.64" y1="179.00" x2="685.64" y2="204.30" stroke="#f23645" stroke-width="0.8"/>
<rect x="684.49" y="180.40" width="2.3" height="3.80" fill="#f23645"/>
<line x1="688.58" y1="175.90" x2="688.58" y2="190.90" stroke="#f23645" stroke-width="0.8"/>
<rect x="687.43" y="180.40" width="2.3" height="5.50" fill="#f23645"/>
<line x1="691.51" y1="184.50" x2="691.51" y2="228.50" stroke="#f23645" stroke-width="0.8"/>
<rect x="690.36" y="185.10" width="2.3" height="21.70" fill="#f23645"/>
<line x1="694.45" y1="200.10" x2="694.45" y2="219.30" stroke="#f23645" stroke-width="0.8"/>
<rect x="693.30" y="206.80" width="2.3" height="4.20" fill="#f23645"/>
<line x1="697.39" y1="191.80" x2="697.39" y2="216.80" stroke="#089981" stroke-width="0.8"/>
<rect x="696.24" y="198.10" width="2.3" height="13.70" fill="#089981"/>
<line x1="700.33" y1="176.70" x2="700.33" y2="203.50" stroke="#089981" stroke-width="0.8"/>
<rect x="699.18" y="185.10" width="2.3" height="10.80" fill="#089981"/>
<line x1="703.26" y1="174.20" x2="703.26" y2="186.70" stroke="#089981" stroke-width="0.8"/>
<rect x="702.11" y="178.40" width="2.3" height="1.30" fill="#089981"/>
<line x1="706.20" y1="154.20" x2="706.20" y2="181.00" stroke="#089981" stroke-width="0.8"/>
<rect x="705.05" y="157.60" width="2.3" height="22.40" fill="#089981"/>
<line x1="709.14" y1="127.00" x2="709.14" y2="160.30" stroke="#089981" stroke-width="0.8"/>
<rect x="707.99" y="140.00" width="2.3" height="16.90" fill="#089981"/>
<line x1="712.08" y1="110.00" x2="712.08" y2="140.00" stroke="#089981" stroke-width="0.8"/>
<rect x="710.93" y="124.40" width="2.3" height="11.90" fill="#089981"/>
<line x1="715.01" y1="120.00" x2="715.01" y2="182.70" stroke="#f23645" stroke-width="0.8"/>
<rect x="713.86" y="121.90" width="2.3" height="26.90" fill="#f23645"/>
<line x1="717.95" y1="110.00" x2="717.95" y2="156.90" stroke="#089981" stroke-width="0.8"/>
<rect x="716.80" y="121.90" width="2.3" height="27.30" fill="#089981"/>
<line x1="720.89" y1="118.10" x2="720.89" y2="137.20" stroke="#f23645" stroke-width="0.8"/>
<rect x="719.74" y="122.30" width="2.3" height="9.60" fill="#f23645"/>
<line x1="723.83" y1="106.30" x2="723.83" y2="137.50" stroke="#089981" stroke-width="0.8"/>
<rect x="722.68" y="114.00" width="2.3" height="17.90" fill="#089981"/>
<line x1="726.76" y1="101.90" x2="726.76" y2="126.90" stroke="#089981" stroke-width="0.8"/>
<rect x="725.61" y="106.50" width="2.3" height="8.30" fill="#089981"/>
<line x1="729.70" y1="97.50" x2="729.70" y2="116.30" stroke="#089981" stroke-width="0.8"/>
<rect x="728.55" y="101.00" width="2.3" height="3.40" fill="#089981"/>
<line x1="732.64" y1="93.40" x2="732.64" y2="104.20" stroke="#089981" stroke-width="0.8"/>
<rect x="731.49" y="95.50" width="2.3" height="6.20" fill="#089981"/>
</svg>
<div id="pct"></div>
<div class="t" id="pcttx">%</div>
<div class="t lg" style="left:41.2px">Japan Government Bonds 10 YR Yield · 1M · TVC</div>
<div class="t lg" style="left:168.6px">O<span class="g">1.646%</span></div>
<div class="t lg" style="left:195.5px">H<span class="g">1.706%</span></div>
<div class="t lg" style="left:221.2px">L<span class="g">1.628%</span></div>
<div class="t lg" style="left:246.9px">C<span class="g">1.691%</span></div>
<div class="t lg g" style="left:271.9px;transform:scaleX(0.87)">+0.038 (+2.30%)</div>
<div class="pl" style="top:393.89px">−0.500%</div>
<div class="pl" style="top:380.10px">−0.400%</div>
<div class="pl" style="top:366.31px">−0.300%</div>
<div class="pl" style="top:352.52px">−0.200%</div>
<div class="pl" style="top:338.73px">−0.100%</div>
<div class="pl" style="top:324.94px">0.000%</div>
<div class="pl" style="top:311.15px">0.100%</div>
<div class="pl" style="top:297.36px">0.200%</div>
<div class="pl" style="top:283.57px">0.300%</div>
<div class="pl" style="top:269.78px">0.400%</div>
<div class="pl" style="top:255.99px">0.500%</div>
<div class="pl" style="top:242.20px">0.600%</div>
<div class="pl" style="top:228.41px">0.700%</div>
<div class="pl" style="top:214.62px">0.800%</div>
<div class="pl" style="top:200.83px">0.900%</div>
<div class="pl" style="top:187.04px">1.000%</div>
<div class="pl" style="top:173.25px">1.100%</div>
<div class="pl" style="top:159.46px">1.200%</div>
<div class="pl" style="top:145.67px">1.300%</div>
<div class="pl" style="top:131.88px">1.400%</div>
<div class="pl" style="top:118.09px">1.500%</div>
<div class="pl" style="top:104.30px">1.600%</div>
<div class="pl" style="top:90.51px">1.700%</div>
<div class="pl" style="top:76.72px">1.800%</div>
<div class="pl" style="top:62.93px">1.900%</div>
<div class="pl" style="top:49.14px">2.000%</div>
<div class="pl" style="top:35.35px">2.100%</div>
<div class="yl" style="left:56.70px">2007</div>
<div class="yl" style="left:91.95px">2008</div>
<div class="yl" style="left:127.20px">2009</div>
<div class="yl" style="left:162.45px">2010</div>
<div class="yl" style="left:197.70px">2011</div>
<div class="yl" style="left:232.95px">2012</div>
<div class="yl" style="left:268.20px">2013</div>
<div class="yl" style="left:303.45px">2014</div>
<div class="yl" style="left:338.70px">2015</div>
<div class="yl" style="left:373.95px">2016</div>
<div class="yl" style="left:409.20px">2017</div>
<div class="yl" style="left:444.45px">2018</div>
<div class="yl" style="left:479.70px">2019</div>
<div class="yl" style="left:514.95px">2020</div>
<div class="yl" style="left:550.20px">2021</div>
<div class="yl" style="left:585.45px">2022</div>
<div class="yl" style="left:620.70px">2023</div>
<div class="yl" style="left:655.95px">2024</div>
<div class="yl" style="left:691.20px">2025</div>
<div class="yl" style="left:726.45px">2026</div>
<div id="plbox">1.691%<br>23d 13h</div>
<div id="sym">JP10Y</div>
<svg id="logo" width="13.5" height="10.5" viewBox="0 0 36 28" style="left:5.25px;top:423.3px;position:absolute"><path d="M14 22H7V11H0V4h14v18zM28 22h-8l7.5-18h8L28 22z" fill="#000"/><circle cx="20" cy="8" r="4" fill="#000"/></svg>
<div class="t" id="logotx">TradingView</div>
<svg width="768" height="442" style="position:absolute;left:0;top:0;pointer-events:none">
<circle cx="732.9" cy="396.1" r="4.3" fill="#fff" stroke="#a43cc0" stroke-width="1.1"/>
<path d="M733.3 393.5 L731.3 396.7 L732.7 396.7 L732.2 398.7 L734.5 395.5 L733.1 395.5 Z" fill="#9c27b0"/>
<circle cx="735.9" cy="393.1" r="1.2" fill="#f23645"/>
</svg>
</div></body></html>
